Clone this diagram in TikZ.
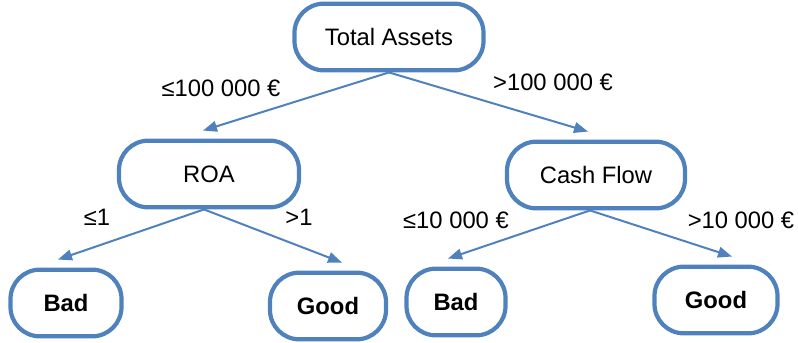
\documentclass[tikz,border=0pt]{standalone}
\usepackage{fontspec}
\setmainfont{Liberation Sans}
\usetikzlibrary{arrows.meta}
\definecolor{boxblue}{HTML}{4F81BD}
\tikzset{
  split/.style={draw=boxblue, line width=3.6pt, rounded corners=0.88cm, minimum height=2.0cm, inner sep=0pt, font=\fontsize{20.3}{24}\selectfont},
  leaf/.style={split, font=\fontsize{20.3}{24}\selectfont\bfseries},
  branch/.style={-{Triangle[length=0.42cm, width=0.32cm]}, draw=boxblue, line width=1.7pt},
  cond/.style={font=\fontsize{20.3}{24}\selectfont, inner sep=0pt},
}
\begin{document}
\begin{tikzpicture}[x=0.03cm,y=-0.03cm]
  \useasboundingbox (0,0) rectangle (798,343);
  \node[split, minimum width=5.67cm] (tot) at (389,37) {Total Assets};
  \node[split, minimum width=5.40cm] (roa) at (209,174) {ROA};
  \node[split, minimum width=5.34cm] (cf) at (596,175) {Cash Flow};
  \node[leaf, minimum width=3.33cm] (bada) at (66,303) {Bad};
  \node[leaf, minimum width=3.48cm] (gooda) at (328,306) {Good};
  \node[leaf, minimum width=2.97cm] (badb) at (456,302) {Bad};
  \node[leaf, minimum width=3.69cm] (goodb) at (716,300) {Good};
  \draw[branch] (tot.south) -- ([xshift=-0.18cm,yshift=0.24cm]roa.north);
  \draw[branch] (tot.south) -- ([xshift=-0.24cm,yshift=0.24cm]cf.north);
  \draw[branch] ([xshift=-0.15cm]roa.south) -- ([xshift=-0.24cm,yshift=0.24cm]bada.north);
  \draw[branch] ([xshift=-0.15cm]roa.south) -- ([xshift=0.42cm,yshift=0.24cm]gooda.north);
  \draw[branch] ([xshift=-0.18cm]cf.south) -- ([xshift=-0.24cm,yshift=0.24cm]badb.north);
  \draw[branch] ([xshift=-0.18cm]cf.south) -- ([xshift=0.48cm,yshift=0.24cm]goodb.north);
  \node[cond] (lta) at (221,88) {≤100 000 €};
  \node[cond] (gta) at (553,82) {>100 000 €};
  \node[cond] (lroa) at (97,217) {≤1};
  \node[cond] (groa) at (299,217) {>1};
  \node[cond] (lcf) at (456,220) {≤10 000 €};
  \node[cond] (gcf) at (741,220) {>10 000 €};
\end{tikzpicture}
\end{document}
